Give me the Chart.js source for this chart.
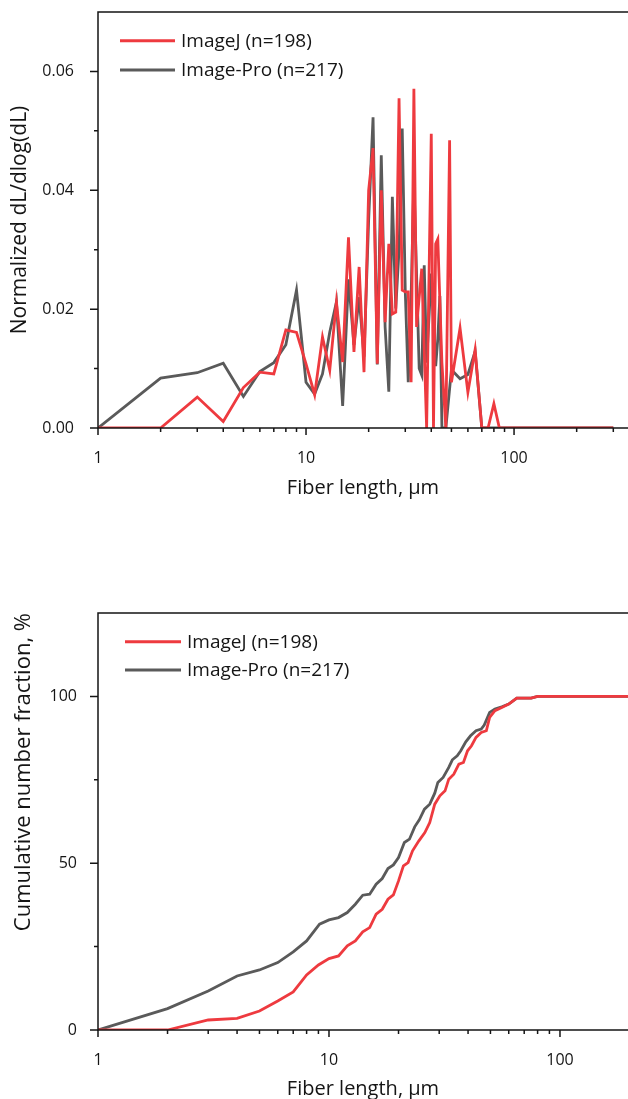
<!DOCTYPE html>
<html>
<head>
<meta charset="utf-8">
<script src="https://cdn.jsdelivr.net/npm/chart.js@4/dist/chart.umd.min.js"></script>
<style>
  html, body { margin: 0; padding: 0; background: #ffffff; overflow: hidden; }
  body { width: 628px; height: 1099px; position: relative; }
  canvas { position: absolute; left: 0; }
  #top { top: 0; }
  #bottom { top: 520px; }
</style>
</head>
<body>
<canvas id="top" width="628" height="520"></canvas>
<canvas id="bottom" width="628" height="579"></canvas>
<script>
// ---------- data ----------
const seriesNames = ['ImageJ (n=198)', 'Image-Pro (n=217)'];
const xTitle = 'Fiber length, μm';
const topYTitle = 'Normalized dL/dlog(dL)';
const bottomYTitle = 'Cumulative number fraction, %';

const xTickLabels = [1, 10, 100];
const topYTickLabels = [0, 0.02, 0.04, 0.06];
const bottomYTickLabels = [0, 50, 100];

// Top: distribution
const topImageJX = [1,2,3,4,5,6,7,8,9,10,11,12,13,14,15,16,17,18,19,20,21,22,23,24,25,26,27,28,29,30,31,32,33,34,36,38,40,41,42,43,45,47,49,50,55,60,65,70,75,80,85,300];
const topImageJY = [0,0,0.0052,0.0011,0.0068,0.0094,0.0091,0.0165,0.0161,0.0108,
  0.0056,0.0153,0.0097,0.0212,0.0111,0.0321,0.0128,0.0271,0.0094,0.0400,
  0.0471,0.0108,0.0400,0.0178,0.0310,0.0192,0.0195,0.0555,0.0232,0.0229,
  0.0229,0.0077,0.0571,0.0170,
  0.0268,0,0.0495,0,0.0310,0.0318,0.0110,0,0.0484,0.0077,
  0.0168,0.0060,0.0132,0,0,0.0041,0,0];

const topProX = [1,2,3,4,5,6,7,8,9,10,11,12,13,14,15,16,17,18,19,20,21,22,23,24,25,26,27,28,29,30,31,32,33,35,36,37,38,40,42,43,44,45,47,50,55,60,65,70,300];
const topProY = [0,0.0084,0.0093,0.0109,0.0053,0.0095,0.0110,0.0140,0.0232,0.0077,
  0.0057,0.0091,0.0161,0.0212,0.0037,0.0250,0.0140,0.0220,0.0120,0.0350,
  0.0523,0.0107,0.0459,0.0170,0.0061,0.0389,0.0201,0.0300,0.0504,0.0230,
  0.0077,0.0220,0.0419,
  0.0100,0.0089,0.0274,0.0110,0.0260,0.0104,0.0150,0.0222,0,0,0.0098,
  0.0083,0.0090,0.0129,0,0];

// Bottom: cumulative
const cumImageJX = [1,2,3,4,5,6,7,8,9,10,11,12,13,14,15,16,17,18,19,20,21,22,23,
  24.5,26,27.3,28.7,30.2,31.8,33,34.7,36.5,38.2,39.8,41.4,43.3,45.6,48,49.6,52.3,56,60,65,75,80,200];
const cumImageJY = [0,0,3.0,3.5,5.7,8.7,11.4,16.5,19.5,21.4,
  22.2,25.2,26.7,29.4,30.7,34.7,36.2,39.2,40.5,44.7,
  49.2,50.2,53.7,
  56.7,59.2,62.2,67.7,70.2,71.7,75.2,76.7,79.7,80.2,
  83.7,85.2,87.7,89.2,89.7,93.7,95.7,96.7,97.7,99.5,
  99.5,100,100];

const cumProX = [1,2,3,4,5,6,7,8,9.1,10,11,12,13,14,15,16,17,18,19,20,
  21.2,22.3,23.5,24.6,25.9,27.3,28.7,29.6,31.2,33,
  34.2,35.9,37.2,39.1,41,43.3,45.6,47,49.6,52.3,56,60,65,75,80,200];
const cumProY = [0,6.4,11.7,16.2,18.0,20.2,23.4,26.7,31.7,33.0,
  33.7,35.2,37.7,40.4,40.7,43.7,45.4,48.4,49.5,51.7,
  56.2,57.2,60.9,63.0,66.2,67.7,71.0,74.2,75.7,78.7,
  81.0,82.2,83.7,86.4,88.2,89.7,90.2,91.4,95.2,96.2,
  96.9,97.7,99.5,99.5,100,100];

// ---------- styling ----------
const RED = '#EE3A3F';
const GRAY = '#5A5A5A';
const INK = '#151515';
Chart.defaults.font.family = "'Open Sans', 'DejaVu Sans', sans-serif";
Chart.defaults.color = INK;

const pts = (xs, ys) => xs.map((x, i) => ({ x: x, y: ys[i] }));
const near = (a, b) => Math.abs(a - b) < 1e-9 * Math.max(1, Math.abs(b));
const zeroPad = (s) => { s.paddingLeft = 0; s.paddingRight = 0; s.paddingTop = 0; s.paddingBottom = 0; };

const decor = {
  id: 'decor',
  afterDraw(chart, args, o) {
    const { ctx, chartArea: a, scales: { x, y } } = chart;
    ctx.save();
    ctx.strokeStyle = INK;
    ctx.lineWidth = 1.5;
    ctx.beginPath();
    ctx.moveTo(a.right + 2, a.top);
    ctx.lineTo(a.left, a.top);
    ctx.lineTo(a.left, a.bottom);
    ctx.lineTo(a.right + 2, a.bottom);
    ctx.stroke();
    ctx.beginPath();
    x.ticks.forEach(t => {
      const v = t.value;
      const p = Math.pow(10, Math.floor(Math.log10(v) + 1e-9));
      const s = v / p;
      if (Math.abs(s - Math.round(s)) > 1e-6) return;
      const px = x.getPixelForValue(v);
      if (px > a.right - 1) return;
      const major = xTickLabels.some(m => near(v, m));
      ctx.moveTo(px, a.bottom);
      ctx.lineTo(px, a.bottom + (major ? 7 : 4));
    });
    y.ticks.forEach(t => {
      const v = t.value;
      if (v >= y.max - 1e-9) return;
      const py = y.getPixelForValue(v);
      const major = o.yMajor.some(m => near(v, m));
      ctx.moveTo(a.left, py);
      ctx.lineTo(a.left - (major ? 8 : 4), py);
    });
    ctx.stroke();
    ctx.font = o.legendFont;
    ctx.textBaseline = 'middle';
    ctx.textAlign = 'left';
    chart.data.datasets.forEach((ds, k) => {
      const ly = a.top + o.legendY + k * o.legendGap;
      ctx.strokeStyle = ds.borderColor;
      ctx.lineWidth = 3;
      ctx.beginPath();
      ctx.moveTo(a.left + o.legendX, ly);
      ctx.lineTo(a.left + o.legendX + o.legendLen, ly);
      ctx.stroke();
      ctx.fillStyle = INK;
      ctx.fillText(ds.label, a.left + o.legendX + o.legendLen + 6, ly + 1);
    });
    ctx.restore();
  }
};

function makeChart(id, ijPts, proPts, cfg) {
  return new Chart(document.getElementById(id), {
    type: 'line',
    data: {
      datasets: [
        { label: seriesNames[0], data: ijPts, borderColor: RED, borderWidth: 2.8, pointRadius: 0, tension: 0, fill: false },
        { label: seriesNames[1], data: proPts, borderColor: GRAY, borderWidth: 2.8, pointRadius: 0, tension: 0, fill: false }
      ]
    },
    options: {
      responsive: false,
      animation: false,
      devicePixelRatio: 1,
      layout: { padding: { top: cfg.padTop, left: 0, right: 0, bottom: 0 } },
      plugins: {
        legend: { display: false },
        tooltip: { enabled: false },
        decor: cfg.decor
      },
      scales: {
        x: {
          type: 'logarithmic',
          min: 1,
          max: cfg.xMax,
          grid: { display: false },
          border: { display: false },
          ticks: {
            autoSkip: false,
            maxRotation: 0,
            padding: 13,
            font: { size: 16 },
            callback: (v) => { const m = xTickLabels.find(t => near(v, t)); return m !== undefined ? String(m) : ''; }
          },
          title: { display: true, text: xTitle, font: { size: 20, lineHeight: 1 }, padding: { top: 0, bottom: cfg.xTitlePad } },
          afterFit: (s) => { s.height = cfg.xHeight; zeroPad(s); }
        },
        y: {
          type: 'linear',
          min: 0,
          max: cfg.yMax,
          grid: { display: false },
          border: { display: false },
          ticks: {
            stepSize: cfg.yStep,
            padding: cfg.yTickPad,
            font: { size: 16 },
            callback: (v) => { const m = cfg.yMajor.find(t => near(v, t)); return m !== undefined ? cfg.fmt(m) : ''; }
          },
          title: { display: true, text: cfg.yTitle, align: cfg.yTitleAlign, font: { size: cfg.yTitleSize, lineHeight: 1 }, padding: { top: cfg.yTitlePad, bottom: 0 } },
          afterFit: (s) => { s.width = 98; zeroPad(s); }
        }
      }
    },
    plugins: [decor]
  });
}

makeChart('top', pts(topImageJX, topImageJY), pts(topProX, topProY), {
  padTop: 12, xMax: 353, xHeight: 92, xTitlePad: 22,
  yMax: 0.07, yStep: 0.01, yMajor: topYTickLabels, fmt: (m) => m.toFixed(2),
  yTickPad: 16, yTitle: topYTitle, yTitleAlign: 'center', yTitleSize: 21, yTitlePad: 9.5,
  decor: { yMajor: topYTickLabels, legendX: 22, legendLen: 55, legendY: 28.7, legendGap: 29.3, legendFont: "19px 'Open Sans', sans-serif" }
});

makeChart('bottom', pts(cumImageJX, cumImageJY), pts(cumProX, cumProY), {
  padTop: 93, xMax: 197, xHeight: 69, xTitlePad: 0,
  yMax: 125, yStep: 25, yMajor: bottomYTickLabels, fmt: (m) => String(m),
  yTickPad: 13, yTitle: bottomYTitle, yTitleAlign: 'end', yTitleSize: 22, yTitlePad: 13,
  decor: { yMajor: bottomYTickLabels, legendX: 27, legendLen: 56, legendY: 28.7, legendGap: 28.3, legendFont: "19px 'Open Sans', sans-serif" }
});
</script>
</body>
</html>
